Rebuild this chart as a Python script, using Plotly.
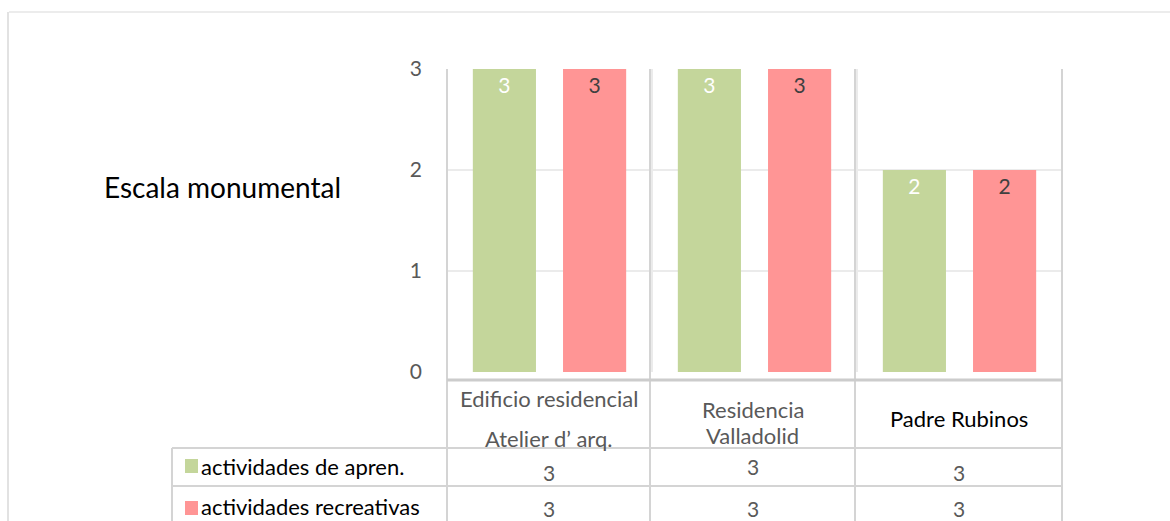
import plotly.graph_objects as go

# ---- data ----
categories = ["Edificio residencial<br>Atelier d’ arq.", "Residencia<br>Valladolid", "Padre Rubinos"]
series_names = ["actividades de apren.", "actividades recreativas"]
apren_values = [3, 3, 2]
recre_values = [3, 3, 2]
table_apren = [3, 3, 3]
table_recre = [3, 3, 3]
y_ticks = [0, 1, 2, 3]
chart_title = "Escala monumental"

GREEN = "#c4d69b"
RED = "#ff9595"
FONT = "Lato, 'Open Sans', sans-serif"
GRAY = "#595959"

W, H = 1170, 521
L, R, T, B = 447, 1062, 69, 372


def px(x):
    return (x - L) / (R - L)


def py(y):
    return (B - y) / (B - T)


fig = go.Figure()
fig.add_trace(go.Bar(
    x=categories, y=apren_values, name=series_names[0],
    marker=dict(color=GREEN, line=dict(width=0)),
    text=apren_values, textposition="inside", insidetextanchor="end",
    textfont=dict(color="white", size=21, family=FONT),
))
fig.add_trace(go.Bar(
    x=categories, y=recre_values, name=series_names[1],
    marker=dict(color=RED, line=dict(width=0)),
    text=recre_values, textposition="inside", insidetextanchor="end",
    textfont=dict(color="#404040", size=21, family=FONT),
))

shapes = []
line_col = "#d4d4d4"
# outer chart frame
shapes.append(dict(type="line", xref="paper", yref="paper", x0=px(9), x1=px(1170), y0=py(12), y1=py(12),
                   line=dict(color="#e6e6e6", width=1.5)))
shapes.append(dict(type="line", xref="paper", yref="paper", x0=px(8), x1=px(8), y0=py(12), y1=py(521),
                   line=dict(color="#d9d9d9", width=1.5)))
# table column boundaries
col_x = [447, 650, 855, 1062]
for cx in col_x:
    shapes.append(dict(type="line", xref="paper", yref="paper", x0=px(cx), x1=px(cx), y0=py(69), y1=py(521),
                       line=dict(color=line_col, width=2)))
# table left column
shapes.append(dict(type="line", xref="paper", yref="paper", x0=px(172), x1=px(172), y0=py(448), y1=py(521),
                   line=dict(color=line_col, width=2)))
# table top border (axis)
shapes.append(dict(type="line", xref="paper", yref="paper", x0=px(447), x1=px(1062), y0=py(380), y1=py(380),
                   line=dict(color="#cccccc", width=3)))
for hy in [448, 486]:
    shapes.append(dict(type="line", xref="paper", yref="paper", x0=px(172), x1=px(1062), y0=py(hy), y1=py(hy),
                       line=dict(color=line_col, width=2)))
# legend keys
for (ky, col) in [(466, GREEN), (508, RED)]:
    shapes.append(dict(type="rect", xref="paper", yref="paper", x0=px(185), x1=px(198), y0=py(ky + 7), y1=py(ky - 7),
                       fillcolor=col, line=dict(width=0)))

annotations = []
annotations.append(dict(text=chart_title, xref="paper", yref="paper", x=px(223), y=py(187),
                        showarrow=False, xanchor="center", yanchor="middle",
                        font=dict(size=28, color="#000000", family=FONT)))
col_centers = [(col_x[i] + col_x[i + 1]) / 2 for i in range(3)]
header_colors = [GRAY, GRAY, "#000000"]
header_line_y = [[398, 438], [409, 436], [418]]
for i, c in enumerate(categories):
    for line_text, ly in zip(c.split("<br>"), header_line_y[i]):
        annotations.append(dict(text=line_text, xref="paper", yref="paper", x=px(col_centers[i]), y=py(ly),
                                showarrow=False, xanchor="center", yanchor="middle",
                                font=dict(size=22, color=header_colors[i], family=FONT)))
row_y = [466, 506]
val_y = [[472, 466, 472], [508, 508, 508]]
for r, (name, vals) in enumerate(zip(series_names, [table_apren, table_recre])):
    annotations.append(dict(text=name, xref="paper", yref="paper", x=px(199), y=py(row_y[r]),
                            showarrow=False, xanchor="left", yanchor="middle",
                            font=dict(size=22, color="#000000", family=FONT)))
    for i, v in enumerate(vals):
        annotations.append(dict(text=str(v), xref="paper", yref="paper", x=px(col_centers[i]), y=py(val_y[r][i]),
                                showarrow=False, xanchor="center", yanchor="middle",
                                font=dict(size=21, color=GRAY, family=FONT)))

fig.update_layout(
    width=W, height=H,
    margin=dict(l=L, r=W - R, t=T, b=H - B, pad=0),
    paper_bgcolor="white", plot_bgcolor="white",
    barmode="group", bargap=0.12, bargroupgap=0.3,
    showlegend=False,
    font=dict(family=FONT),
    xaxis=dict(showticklabels=False, tickson="boundaries", showgrid=True, gridcolor="#ebebeb",
               gridwidth=2, ticks="", showline=False, zeroline=False),
    yaxis=dict(range=[0, 3], tickvals=y_ticks, showgrid=True, gridcolor="#ebebeb", gridwidth=2,
               zeroline=False, showline=False, ticks="", ticklabelstandoff=24,
               tickfont=dict(size=21, color=GRAY, family=FONT)),
    shapes=shapes, annotations=annotations,
)

fig.write_html("out.html")
